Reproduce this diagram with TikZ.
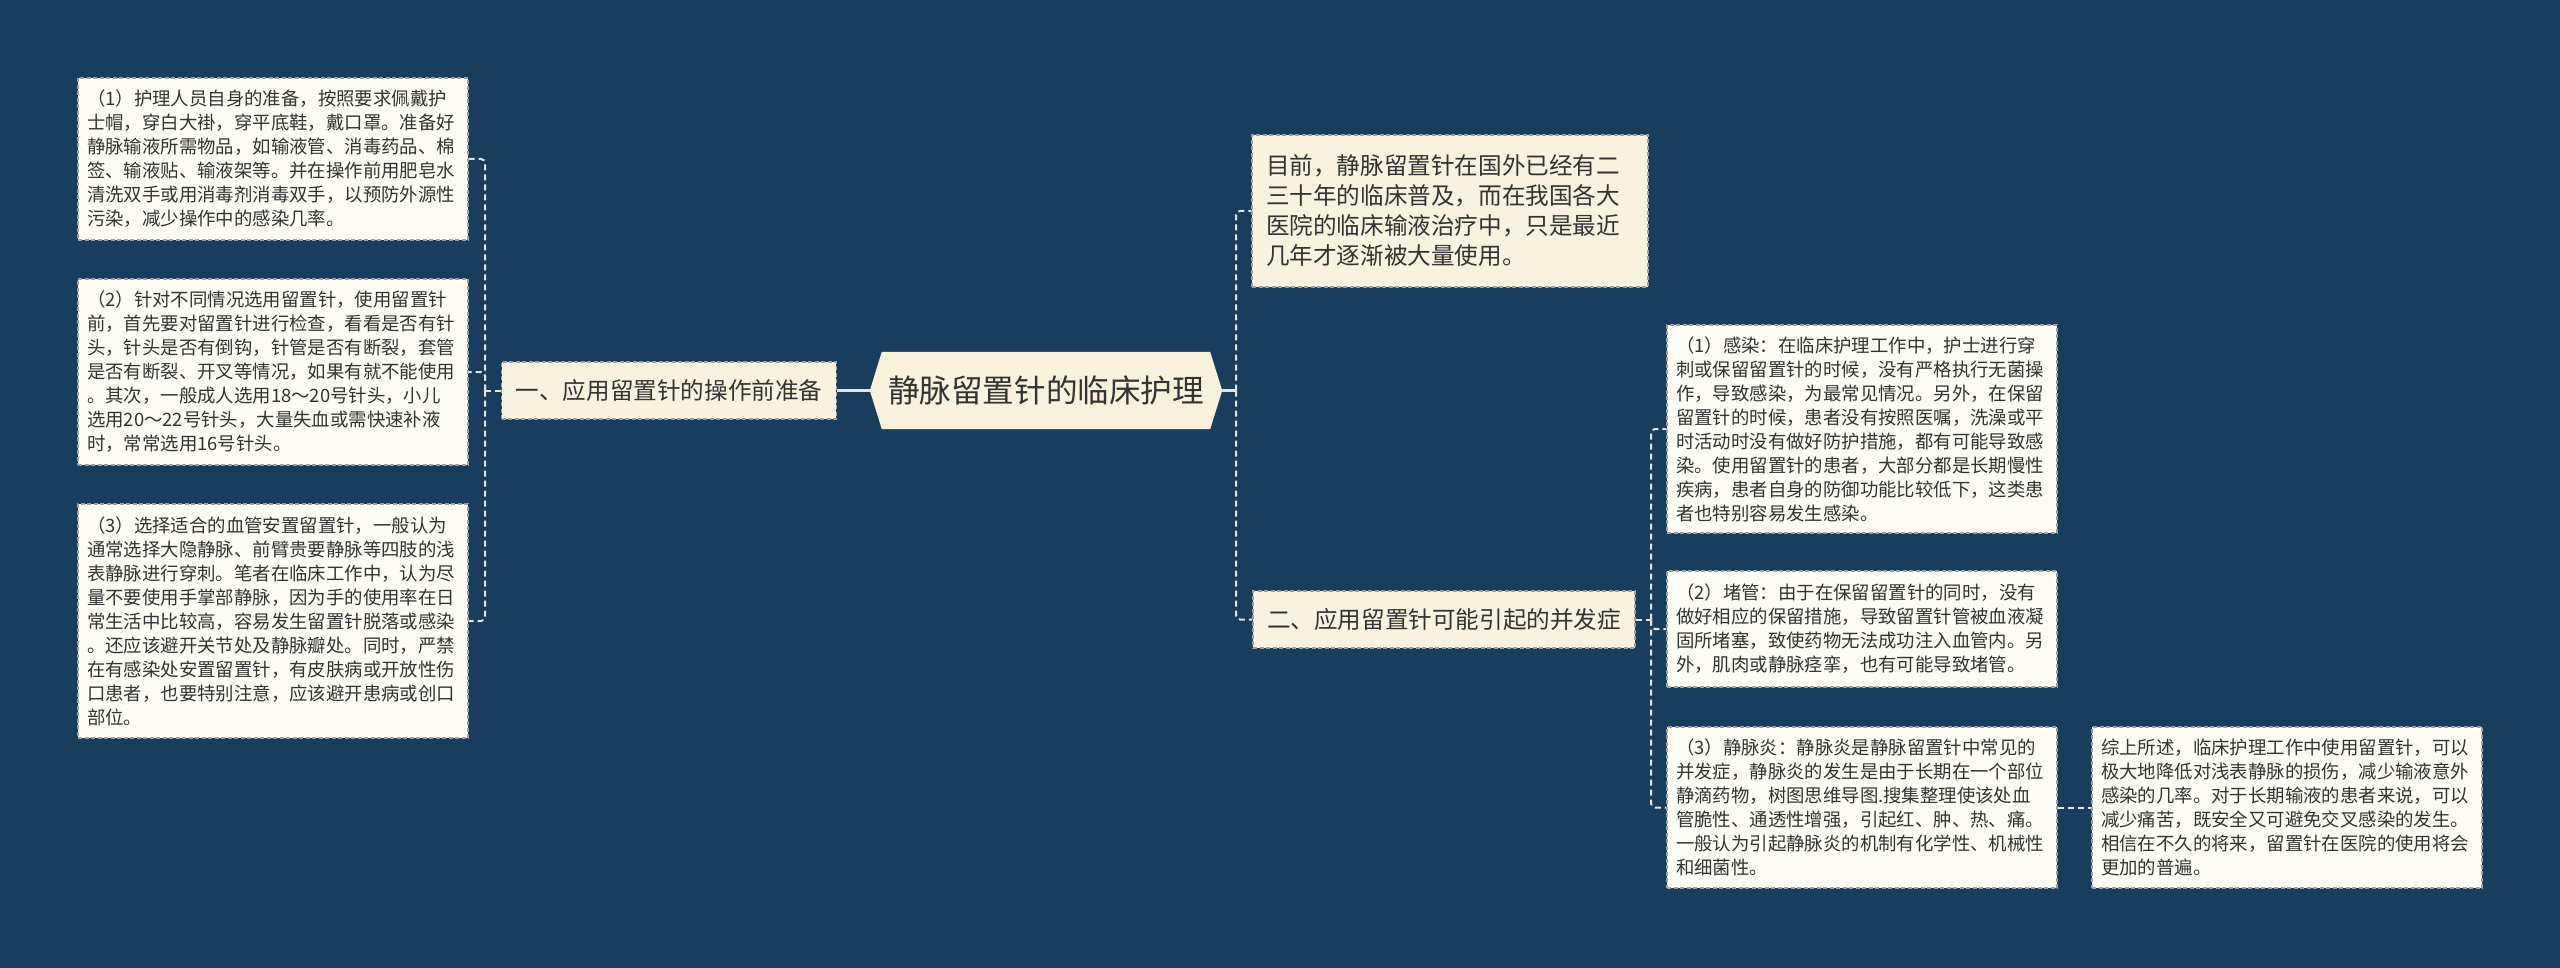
\documentclass[tikz,border=0pt]{standalone}
\usepackage{fontspec}
\setmainfont{Noto Sans CJK SC}
\definecolor{bgc}{RGB}{24,61,93}
\definecolor{leaffill}{HTML}{FDFCF5}
\definecolor{midfill}{HTML}{F8F2DE}
\definecolor{rootfill}{HTML}{F8F1DB}
\definecolor{bordc}{HTML}{A0A0A0}
\definecolor{linec}{HTML}{E4E4E4}
\definecolor{txt}{HTML}{333333}
\pgfdeclarelayer{bg}
\pgfsetlayers{bg,main}
\tikzset{
  leafbox/.style={draw=bordc, fill=leaffill, dash pattern=on 4pt off 2.5pt, line width=1.4pt,
    text=txt, text width=372pt, inner xsep=9pt, inner ysep=0pt, align=left,
    font=\fontsize{18.4}{24}\selectfont},
  midbox/.style={draw=bordc, fill=midfill, dash pattern=on 4pt off 2.5pt, line width=1.4pt,
    text=txt, inner xsep=14pt, inner ysep=0pt, font=\fontsize{23.6}{30}\selectfont},
  conn/.style={draw=linec, line width=2pt, dash pattern=on 6pt off 4pt},
  rootconn/.style={draw=linec, line width=2.5pt},
}
\begin{document}
\begin{tikzpicture}[x=1pt,y=-1pt]
\useasboundingbox (0,0) rectangle (2560,968);
\begin{pgfonlayer}{bg}
\fill[bgc] (0,0) rectangle (2560,968);
\end{pgfonlayer}

% root
\node[font=\fontsize{31.6}{36}\selectfont, text=txt, minimum width=352pt, minimum height=77pt, inner sep=0pt] (root) at (1046,390.5) {静脉留置针的临床护理};
\begin{pgfonlayer}{bg}
\fill[rootfill] (root.west) -- ([xshift=12pt]root.north west) -- ([xshift=-12pt]root.north east) -- (root.east) -- ([xshift=-12pt]root.south east) -- ([xshift=12pt]root.south west) -- cycle;
\end{pgfonlayer}

% left side
\node[midbox, minimum height=57pt] (B1) at (669,390.5) {一、应用留置针的操作前准备};

\node[leafbox, minimum height=162pt] (L1) at (273,159) {（1）护理人员自身的准备，按照要求佩戴护\\士帽，穿白大褂，穿平底鞋，戴口罩。准备好\\静脉输液所需物品，如输液管、消毒药品、棉\\签、输液贴、输液架等。并在操作前用肥皂水\\清洗双手或用消毒剂消毒双手，以预防外源性\\污染，减少操作中的感染几率。};

\node[leafbox, minimum height=186pt] (L2) at (273,372) {（2）针对不同情况选用留置针，使用留置针\\前，首先要对留置针进行检查，看看是否有针\\头，针头是否有倒钩，针管是否有断裂，套管\\是否有断裂、开叉等情况，如果有就不能使用\\。其次，一般成人选用18～20号针头，小儿\\选用20～22号针头，大量失血或需快速补液\\时，常常选用16号针头。};

\node[leafbox, minimum height=234pt] (L3) at (273,621) {（3）选择适合的血管安置留置针，一般认为\\通常选择大隐静脉、前臂贵要静脉等四肢的浅\\表静脉进行穿刺。笔者在临床工作中，认为尽\\量不要使用手掌部静脉，因为手的使用率在日\\常生活中比较高，容易发生留置针脱落或感染\\。还应该避开关节处及静脉瓣处。同时，严禁\\在有感染处安置留置针，有皮肤病或开放性伤\\口患者，也要特别注意，应该避开患病或创口\\部位。};

% right side
\node[midbox, text width=368pt, align=left, minimum height=152pt] (R1) at (1450,211) {目前，静脉留置针在国外已经有二\\三十年的临床普及，而在我国各大\\医院的临床输液治疗中，只是最近\\几年才逐渐被大量使用。};

\node[midbox, minimum height=57pt] (B2) at (1444,619.5) {二、应用留置针可能引起的并发症};

\node[leafbox, minimum height=208pt] (C1) at (1862,429) {（1）感染：在临床护理工作中，护士进行穿\\刺或保留留置针的时候，没有严格执行无菌操\\作，导致感染，为最常见情况。另外，在保留\\留置针的时候，患者没有按照医嘱，洗澡或平\\时活动时没有做好防护措施，都有可能导致感\\染。使用留置针的患者，大部分都是长期慢性\\疾病，患者自身的防御功能比较低下，这类患\\者也特别容易发生感染。};

\node[leafbox, minimum height=116pt] (C2) at (1862,629) {（2）堵管：由于在保留留置针的同时，没有\\做好相应的保留措施，导致留置针管被血液凝\\固所堵塞，致使药物无法成功注入血管内。另\\外，肌肉或静脉痉挛，也有可能导致堵管。};

\node[leafbox, minimum height=161pt] (C3) at (1862,807.5) {（3）静脉炎：静脉炎是静脉留置针中常见的\\并发症，静脉炎的发生是由于长期在一个部位\\静滴药物，树图思维导图.搜集整理使该处血\\管脆性、通透性增强，引起红、肿、热、痛。\\一般认为引起静脉炎的机制有化学性、机械性\\和细菌性。};

\node[leafbox, minimum height=161pt] (C4) at (2287,807.5) {综上所述，临床护理工作中使用留置针，可以\\极大地降低对浅表静脉的损伤，减少输液意外\\感染的几率。对于长期输液的患者来说，可以\\减少痛苦，既安全又可避免交叉感染的发生。\\相信在不久的将来，留置针在医院的使用将会\\更加的普遍。};

% connectors
\coordinate (t1) at (485,390.5);
\coordinate (t2) at (1236,390.5);
\coordinate (t3) at (1651,619.5);

\draw[rootconn] (root.west) -- (B1.east);
\draw[conn] (B1.west) -- (t1);
\draw[conn, rounded corners=4pt] (t1) |- (L1.east);
\draw[conn, rounded corners=4pt] (t1) |- (L2.east);
\draw[conn, rounded corners=4pt] (t1) |- (L3.east);

\draw[rootconn] (root.east) -- (t2);
\draw[conn, rounded corners=4pt] (t2) |- (R1.west);
\draw[conn, rounded corners=4pt] (t2) |- (B2.west);

\draw[conn] (B2.east) -- (t3);
\draw[conn, rounded corners=4pt] (t3) |- (C1.west);
\draw[conn, rounded corners=4pt] (t3) |- (C2.west);
\draw[conn, rounded corners=4pt] (t3) |- (C3.west);
\draw[conn] (C3.east) -- (C4.west);
\end{tikzpicture}
\end{document}
